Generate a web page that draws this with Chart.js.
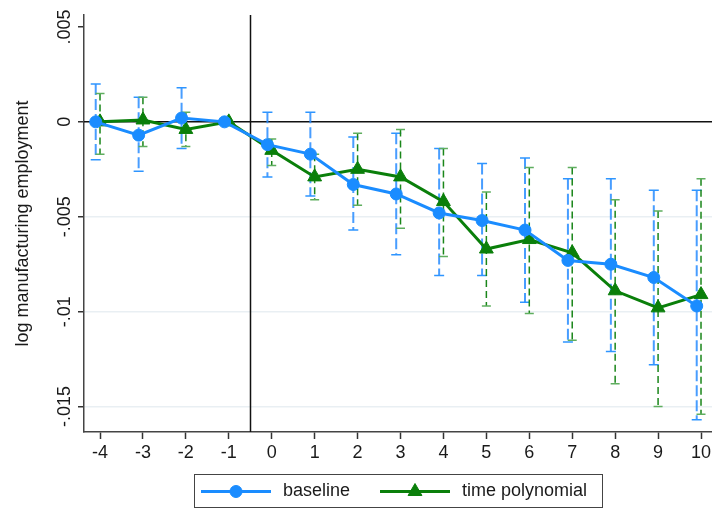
<!DOCTYPE html>
<html><head><meta charset="utf-8">
<script src="https://cdn.jsdelivr.net/npm/chart.js@4.4.1/dist/chart.umd.min.js"></script>
<style>html,body{margin:0;padding:0;background:#fff}#wrap{width:712px;height:510px;position:relative}</style>
</head><body>
<div id="wrap"><canvas id="c" width="712" height="510"></canvas></div>
<script>
const periods = [-4,-3,-2,-1,0,1,2,3,4,5,6,7,8,9,10];
const baseline   = [0.0000,-0.0007,0.0002,0.0000,-0.0012,-0.0017,-0.0033,-0.0038,-0.0048,-0.0052,-0.0057,-0.0073,-0.0075,-0.0082,-0.0097];
const baselineLo = [-0.0020,-0.0026,-0.0014,null,-0.0029,-0.0039,-0.0057,-0.0070,-0.0081,-0.0081,-0.0095,-0.0116,-0.0121,-0.0128,-0.0157];
const baselineHi = [0.0020,0.0013,0.0018,null,0.0005,0.0005,-0.0008,-0.0006,-0.0014,-0.0022,-0.0019,-0.0030,-0.0030,-0.0036,-0.0036];
const timePoly   = [0.0000,0.0001,-0.0004,0.0000,-0.0015,-0.0029,-0.0025,-0.0029,-0.0042,-0.0067,-0.0062,-0.0069,-0.0089,-0.0098,-0.0091];
const timePolyLo = [-0.0017,-0.0013,-0.0013,null,-0.0023,-0.0041,-0.0044,-0.0056,-0.0071,-0.0097,-0.0101,-0.0115,-0.0138,-0.0150,-0.0154];
const timePolyHi = [0.0015,0.0013,0.0005,null,-0.0009,-0.0017,-0.0006,-0.0004,-0.0014,-0.0037,-0.0024,-0.0024,-0.0041,-0.0047,-0.0030];
const yTicks      = [0.005,0,-0.005,-0.01,-0.015];
const yTickLabels = ['.005','0','-.005','-.01','-.015'];
const xTickLabels = ['-4','-3','-2','-1','0','1','2','3','4','5','6','7','8','9','10'];
const seriesNames = ['baseline','time polynomial'];
const yTitle = 'log manufacturing employment';
const eventLine = -0.5;

const FONT = '"Liberation Sans", Arial, Helvetica, sans-serif';
const BLUE = '#1a8cff', GREEN = '#0a7f0a';
const blueOffset = -0.1, greenOffset = 0;

const ciSets = [
  {off: blueOffset, lo: baselineLo, hi: baselineHi, color: 'rgba(40,140,255,0.85)', cap: '#2e95ff', dash: [11,4], w: 2, capW: 10},
  {off: greenOffset, lo: timePolyLo, hi: timePolyHi, color: '#1a861a', cap: '#5fae5f', dash: [7,4], w: 1.5, capW: 9}
];

const overlay = {
  id: 'overlay',
  beforeDatasetsDraw(chart) {
    const {ctx, chartArea: a, scales: {x, y}} = chart;
    ctx.save();
    const xe = Math.round(x.getPixelForValue(eventLine)) + 0.5;
    ctx.strokeStyle = '#111'; ctx.lineWidth = 1.5;
    ctx.beginPath(); ctx.moveTo(xe, a.top); ctx.lineTo(xe, a.bottom); ctx.stroke();
    const y0 = y.getPixelForValue(0);
    ctx.beginPath(); ctx.moveTo(a.left, y0); ctx.lineTo(a.right, y0); ctx.stroke();
    ciSets.forEach(s => {
      periods.forEach((p, i) => {
        if (s.lo[i] == null) return;
        const px = x.getPixelForValue(p + s.off);
        const yl = y.getPixelForValue(s.lo[i]), yh = y.getPixelForValue(s.hi[i]);
        ctx.setLineDash(s.dash); ctx.strokeStyle = s.color; ctx.lineWidth = s.w;
        ctx.beginPath(); ctx.moveTo(px, yh); ctx.lineTo(px, yl); ctx.stroke();
        ctx.setLineDash([]); ctx.strokeStyle = s.cap; ctx.lineWidth = 1.5;
        ctx.beginPath();
        ctx.moveTo(px - s.capW/2, yh); ctx.lineTo(px + s.capW/2, yh);
        ctx.moveTo(px - s.capW/2, yl); ctx.lineTo(px + s.capW/2, yl);
        ctx.stroke();
      });
    });
    ctx.restore();
  },
  afterDraw(chart) {
    const {ctx, chartArea: a, scales: {y}} = chart;
    ctx.save();
    ctx.fillStyle = '#1a1a1a';
    ctx.font = '18px ' + FONT;
    ctx.textAlign = 'center'; ctx.textBaseline = 'middle';
    yTicks.forEach((v, i) => {
      ctx.save();
      ctx.translate(65, y.getPixelForValue(v));
      ctx.rotate(-Math.PI/2);
      ctx.fillText(yTickLabels[i], 0, 0);
      ctx.restore();
    });
    ctx.save();
    ctx.translate(23, (a.top + a.bottom) / 2);
    ctx.rotate(-Math.PI/2);
    ctx.fillText(yTitle, 0, 0);
    ctx.restore();
    const lx = 194, ly = 474, lw = 408, lh = 33, cy = ly + lh/2 + 1;
    ctx.strokeStyle = '#444'; ctx.lineWidth = 1;
    ctx.strokeRect(lx + 0.5, ly + 0.5, lw, lh);
    const items = [
      {x0: 201, x1: 271, name: seriesNames[0], color: BLUE, style: 'circle', r: 6, tx: 283},
      {x0: 380, x1: 450, name: seriesNames[1], color: GREEN, style: 'triangle', r: 8, tx: 462}
    ];
    items.forEach(it => {
      ctx.strokeStyle = it.color; ctx.lineWidth = 3;
      ctx.beginPath(); ctx.moveTo(it.x0, cy); ctx.lineTo(it.x1, cy); ctx.stroke();
      ctx.fillStyle = it.color; ctx.strokeStyle = it.color; ctx.lineWidth = 1;
      Chart.helpers.drawPoint(ctx, {pointStyle: it.style, radius: it.r, rotation: 0, borderWidth: 1}, (it.x0 + it.x1)/2, cy);
      ctx.fillStyle = '#1a1a1a'; ctx.textAlign = 'left'; ctx.textBaseline = 'middle';
      ctx.font = '18px ' + FONT;
      ctx.fillText(it.name, it.tx, cy);
    });
    ctx.restore();
  }
};

const mk = (vals, off) => periods.map((p, i) => ({x: p + off, y: vals[i]}));

new Chart(document.getElementById('c'), {
  type: 'line',
  data: {
    datasets: [
      {label: seriesNames[0], data: mk(baseline, blueOffset), borderColor: BLUE, backgroundColor: BLUE,
       borderWidth: 3, pointStyle: 'circle', pointRadius: 6, pointBackgroundColor: BLUE, pointBorderColor: BLUE, pointBorderWidth: 1, tension: 0},
      {label: seriesNames[1], data: mk(timePoly, greenOffset), borderColor: GREEN, backgroundColor: GREEN,
       borderWidth: 3, pointStyle: 'triangle', pointRadius: 8, pointBackgroundColor: GREEN, pointBorderColor: GREEN, pointBorderWidth: 1, tension: 0}
    ]
  },
  options: {
    responsive: false, animation: false, devicePixelRatio: 1,
    layout: {autoPadding: false, padding: {top: 15, right: 0, left: 0, bottom: 0}},
    plugins: {legend: {display: false}, tooltip: {enabled: false}},
    scales: {
      x: {
        type: 'linear', min: -4.373, max: 10.256,
        afterBuildTicks: s => { s.ticks = periods.map(v => ({value: v})); },
        afterFit: s => { s.height = 78; s.paddingLeft = 0; s.paddingRight = 0; },
        ticks: {callback: (v) => xTickLabels[periods.indexOf(v)], font: {size: 18, family: FONT}, color: '#1a1a1a', padding: 3, maxRotation: 0, minRotation: 0, autoSkip: false},
        grid: {drawOnChartArea: false, drawTicks: true, tickLength: 7, tickColor: '#333', tickWidth: 1.5},
        border: {display: true, color: '#444', width: 1.5}
      },
      y: {
        min: -0.01634, max: 0.00563,
        afterBuildTicks: s => { s.ticks = yTicks.map(v => ({value: v})); },
        afterFit: s => { s.width = 84; s.paddingTop = 0; s.paddingBottom = 0; },
        ticks: {display: false},
        grid: {
          drawTicks: true, tickLength: 6, tickColor: '#333', tickWidth: 1.5,
          color: c => (c.tick && (c.tick.value === 0 || c.tick.value === 0.005)) ? 'rgba(0,0,0,0)' : '#e9eff3',
          lineWidth: 1.5
        },
        border: {display: true, color: '#444', width: 1.5}
      }
    }
  },
  plugins: [overlay]
});
</script>
</body></html>
